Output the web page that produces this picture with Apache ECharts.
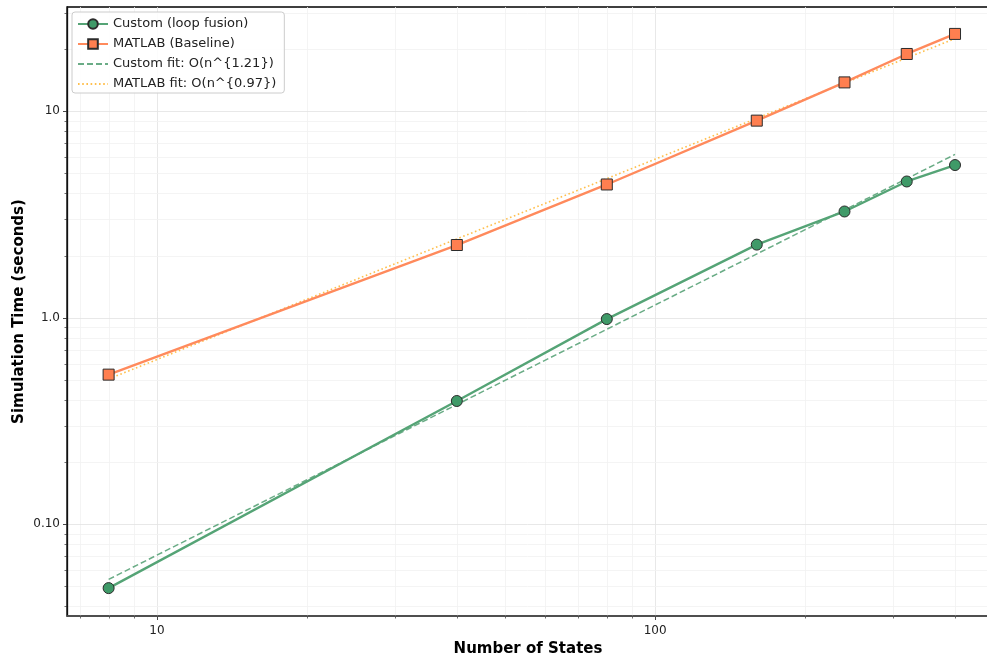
<!DOCTYPE html>
<html>
<head>
<meta charset="utf-8">
<title>Simulation time vs number of states</title>
<script src="https://cdn.jsdelivr.net/npm/echarts@6/dist/echarts.min.js"></script>
<style>
  html, body { margin: 0; padding: 0; background: #ffffff; }
  #chart { width: 987px; height: 660px; }
</style>
</head>
<body>
<div id="chart"></div>
<script>
// Measured runtimes (seconds) per model size
const states = [8, 40, 80, 160, 240, 320, 400];
const customTimes = [0.049, 0.395, 0.985, 2.26, 3.27, 4.57, 5.49];
const matlabTimes = [0.53, 2.25, 4.42, 9.01, 13.8, 18.95, 23.7];

// Power-law fits, evaluated at the ends of the measured range
const fitStates = [8, 400];
const customFit = [0.054, 6.18];
const matlabFit = [0.505, 22.5];

// Axis ticks (log scale): labelled decades and unlabelled sub-decade ticks
const xMajorTicks = [10, 100];
const xMinorTicks = [7, 8, 9, 20, 30, 40, 50, 60, 70, 80, 90, 200, 300, 400];
const yMajorTicks = [0.1, 1, 10];
const yMinorTicks = [0.04, 0.05, 0.06, 0.07, 0.08, 0.09,
                     0.2, 0.3, 0.4, 0.5, 0.6, 0.7, 0.8, 0.9,
                     2, 3, 4, 5, 6, 7, 8, 9, 20, 30];

const xRange = [6.6, 468];
const yRange = [0.0359, 32.0];

const FONT = 'DejaVu Sans';
const pairs = (xs, ys) => xs.map((x, i) => [x, ys[i]]);

function isPow10(v) {
  const l = Math.log10(v);
  return Math.abs(l - Math.round(l)) < 1e-6;
}

// Vertical grid lines plus outward ticks under the bottom spine
function renderXGrid(params, api) {
  const cs = params.coordSys;
  const major = params.dataIndex < xMajorTicks.length;
  const x = Math.round(api.coord([api.value(0), yRange[0]])[0]) + 0.5;
  const yb = cs.y + cs.height;
  return {
    type: 'group',
    children: [
      { type: 'line', shape: { x1: x, y1: cs.y, x2: x, y2: yb },
        style: { stroke: major ? '#e2e2e2' : '#f1f1f1', lineWidth: 0.8 } },
      { type: 'line', shape: { x1: x, y1: yb, x2: x, y2: yb + (major ? 4 : 2.5) },
        style: { stroke: '#333', lineWidth: major ? 0.9 : 0.7 } }
    ]
  };
}

// Horizontal grid lines plus outward ticks left of the left spine
function renderYGrid(params, api) {
  const cs = params.coordSys;
  const major = params.dataIndex < yMajorTicks.length;
  const y = Math.round(api.coord([xRange[0], api.value(1)])[1]) + 0.5;
  return {
    type: 'group',
    children: [
      { type: 'line', shape: { x1: cs.x, y1: y, x2: cs.x + cs.width, y2: y },
        style: { stroke: major ? '#e2e2e2' : '#f1f1f1', lineWidth: 0.8 } },
      { type: 'line', shape: { x1: cs.x, y1: y, x2: cs.x - (major ? 4 : 2.5), y2: y },
        style: { stroke: '#333', lineWidth: major ? 0.9 : 0.7 } }
    ]
  };
}

const chart = echarts.init(document.getElementById('chart'), null, { renderer: 'canvas' });

chart.setOption({
  animation: false,
  backgroundColor: '#ffffff',
  textStyle: { fontFamily: FONT },
  grid: {
    left: 67, top: 7, right: -2, bottom: 44,
    containLabel: false, outerBoundsMode: 'none',
    show: true, borderColor: '#000000', borderWidth: 1.3, backgroundColor: 'transparent'
  },
  legend: {
    left: 72, top: 12,
    orient: 'vertical',
    itemWidth: 30, itemHeight: 12, itemGap: 6,
    padding: [5, 8, 2, 5],
    backgroundColor: 'rgba(255,255,255,0.85)',
    borderColor: '#cccccc', borderWidth: 1, borderRadius: 3,
    textStyle: { fontFamily: FONT, fontSize: 13, color: '#222', lineHeight: 14 },
    data: [
      { name: 'Custom (loop fusion)' },
      { name: 'MATLAB (Baseline)' },
      { name: 'Custom fit: O(n^{1.21})', itemStyle: { opacity: 0 } },
      { name: 'MATLAB fit: O(n^{0.97})', itemStyle: { opacity: 0 } }
    ]
  },
  xAxis: {
    type: 'log', logBase: 10,
    min: xRange[0], max: xRange[1],
    name: 'Number of States',
    nameLocation: 'middle', nameGap: 24,
    nameTextStyle: { fontFamily: FONT, fontSize: 15, fontWeight: 'bold', color: '#000' },
    axisLine: { show: true, lineStyle: { color: '#555', width: 1.5 } },
    axisTick: { show: false },
    splitLine: { show: false },
    minorTick: { show: false },
    axisLabel: {
      show: true, margin: 9, fontFamily: FONT, fontSize: 12, color: '#222',
      showMinLabel: false, showMaxLabel: false,
      formatter: v => isPow10(v) ? String(Math.round(v)) : ''
    }
  },
  yAxis: {
    type: 'log', logBase: 10,
    min: yRange[0], max: yRange[1],
    name: 'Simulation Time (seconds)',
    nameLocation: 'middle', nameGap: 40, nameRotate: 90,
    nameMoveOverlap: false,
    nameTextStyle: { fontFamily: FONT, fontSize: 15, fontWeight: 'bold', color: '#000' },
    axisLine: { show: true, lineStyle: { color: '#111111', width: 1.3 } },
    axisTick: { show: false },
    splitLine: { show: false },
    minorTick: { show: false },
    axisLabel: {
      show: true, margin: 7, fontFamily: FONT, fontSize: 12, color: '#222',
      showMinLabel: false, showMaxLabel: false,
      formatter: v => {
        if (!isPow10(v)) return '';
        const p = Math.round(Math.log10(v));
        if (p <= -1) return v.toFixed(2);
        if (p === 0) return '1.0';
        return String(Math.round(v));
      }
    }
  },
  series: [
    {
      type: 'custom', name: 'xgrid', silent: true, clip: false, z: 0,
      renderItem: renderXGrid,
      data: [...xMajorTicks, ...xMinorTicks].map(v => [v, yRange[0]])
    },
    {
      type: 'custom', name: 'ygrid', silent: true, clip: false, z: 0,
      renderItem: renderYGrid,
      data: [...yMajorTicks, ...yMinorTicks].map(v => [xRange[0], v])
    },
    {
      name: 'Custom fit: O(n^{1.21})',
      type: 'line', z: 3, symbol: 'none', silent: true,
      data: pairs(fitStates, customFit),
      lineStyle: { color: '#6aac86', width: 1.5, type: [6, 3] },
      itemStyle: { color: '#6aac86' }
    },
    {
      name: 'MATLAB fit: O(n^{0.97})',
      type: 'line', z: 3, symbol: 'none', silent: true,
      data: pairs(fitStates, matlabFit),
      lineStyle: { color: '#ffbf4c', width: 1.6, type: [1.6, 2.6] },
      itemStyle: { color: '#ffbf4c' }
    },
    {
      name: 'Custom (loop fusion)',
      type: 'line', z: 4,
      data: pairs(states, customTimes),
      symbol: 'circle', symbolSize: 11,
      lineStyle: { color: '#55a476', width: 2.4 },
      itemStyle: { color: '#3f9a68', borderColor: '#2b2b2b', borderWidth: 1 }
    },
    {
      name: 'MATLAB (Baseline)',
      type: 'line', z: 4,
      data: pairs(states, matlabTimes),
      symbol: 'rect', symbolSize: 11,
      lineStyle: { color: '#ff8a5c', width: 2.4 },
      itemStyle: { color: '#ff7f50', borderColor: '#2b2b2b', borderWidth: 1 }
    }
  ]
});
</script>
</body>
</html>
